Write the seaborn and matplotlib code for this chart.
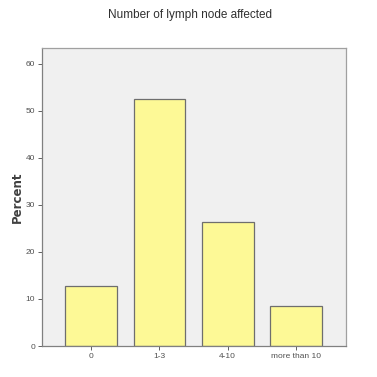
import matplotlib
matplotlib.use("Agg")
import matplotlib.pyplot as plt
import seaborn as sns
import pandas as pd

categories = ["0", "1-3", "4-10", "more than 10"]
percent = [12.7, 52.5, 26.3, 8.5]
yticks = [0, 10, 20, 30, 40, 50, 60]

sns.set_style("white")
plt.rcParams["font.family"] = ["Liberation Sans Narrow", "Liberation Sans", "DejaVu Sans"]

df = pd.DataFrame({"cat": categories, "pct": percent})

fig = plt.figure(figsize=(3.77, 3.77), dpi=100)
ax = fig.add_axes([0.1114, 0.0822, 0.806, 0.790])
ax.set_facecolor("#F0F0F0")
sns.barplot(data=df, x="cat", y="pct", ax=ax, color="#FDF996", saturation=1,
            width=0.755, edgecolor="#6E6E6E", linewidth=0.9)
ax.set_xlim(-0.72, 3.73)
ax.set_ylim(0, 63.3)
ax.set_yticks(yticks)
ax.set_xlabel("")
ax.set_ylabel("Percent", fontsize=8.5, fontweight="bold", color="#404040", labelpad=1,
              family=["DejaVu Sans"])
for s in ax.spines.values():
    s.set_color("#A0A0A0")
    s.set_linewidth(0.9)
ax.spines["left"].set_color("#808080")
ax.spines["bottom"].set_color("#808080")
ax.tick_params(axis="both", direction="out", length=3, width=0.7, color="#606060",
               labelsize=6, labelcolor="#505050", pad=2, bottom=True, left=True)
fig.suptitle("Number of lymph node affected", x=0.505, y=0.975, fontsize=8.5, color="#303030")
fig.savefig("out.png", dpi=100)
